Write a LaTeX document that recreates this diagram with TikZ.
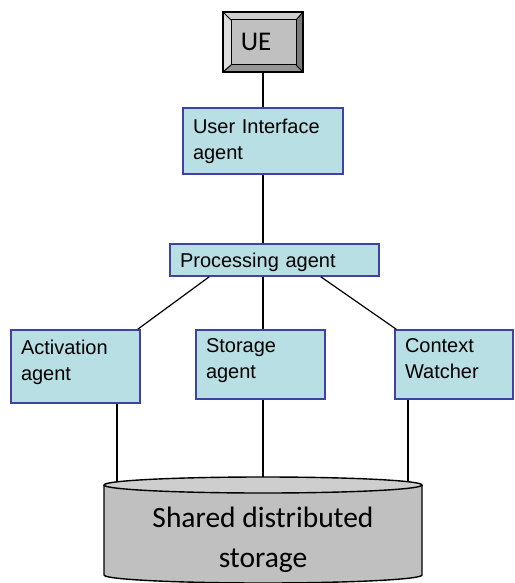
\documentclass[tikz,border=0pt]{standalone}
\usepackage{fontspec}
\setmainfont{Liberation Sans}
\newfontfamily\calibrifont{Carlito}
\usepackage{tikz}

\definecolor{agentfill}{RGB}{184,223,227}
\definecolor{agentline}{RGB}{65,65,165}
\definecolor{uegray}{RGB}{192,192,192}
\definecolor{bevtop}{RGB}{208,208,208}
\definecolor{bevleft}{RGB}{222,222,222}
\definecolor{bevright}{RGB}{122,122,122}
\definecolor{bevbottom}{RGB}{150,150,150}
\definecolor{dbbody}{RGB}{192,192,192}
\definecolor{dbtop}{RGB}{206,206,206}

\begin{document}
\begin{tikzpicture}[x=1pt, y=-1pt,
	agent/.style={rectangle, draw=agentline, fill=agentfill, line width=1.6pt,
		align=left, inner xsep=10pt, inner ysep=0pt,
		font=\fontsize{20}{26}\selectfont},
	leaf/.style={agent, text depth=38.7pt},
	link/.style={line width=1.2pt, draw=black},
	uebox/.style={rectangle, draw=black, line width=1.2pt, fill=uegray,
		minimum width=80pt, minimum height=60pt, inner sep=0pt,
		font=\calibrifont\fontsize{27}{32}\selectfont,
		path picture={
			\coordinate (bnw) at (path picture bounding box.north west);
			\coordinate (bne) at (path picture bounding box.north east);
			\coordinate (bsw) at (path picture bounding box.south west);
			\coordinate (bse) at (path picture bounding box.south east);
			\fill[bevtop] (bnw) -- (bne) -- ([shift={(-7pt,-8pt)}]bne) -- ([shift={(8pt,-8pt)}]bnw) -- cycle;
			\fill[bevleft] (bnw) -- ([shift={(8pt,-8pt)}]bnw) -- ([shift={(8pt,7pt)}]bsw) -- (bsw) -- cycle;
			\fill[bevright] (bne) -- (bse) -- ([shift={(-7pt,7pt)}]bse) -- ([shift={(-7pt,-8pt)}]bne) -- cycle;
			\fill[bevbottom] (bsw) -- (bse) -- ([shift={(-7pt,7pt)}]bse) -- ([shift={(8pt,7pt)}]bsw) -- cycle;
			\draw[line width=1pt] ([shift={(8pt,-8pt)}]bnw) rectangle ([shift={(-7pt,7pt)}]bse);
			\draw[line width=1pt] (bnw) -- ++(8pt,-8pt) (bne) -- ++(-7pt,-8pt)
				(bsw) -- ++(8pt,7pt) (bse) -- ++(-7pt,7pt);
		}}]
	\useasboundingbox (0,0) rectangle (514,583);

	% shared storage
	\path[draw, line width=1.4pt, fill=dbbody] (104,485) -- (104,575)
		arc[start angle=180, end angle=360, x radius=159pt, y radius=8pt] -- (422,485);
	\draw[line width=1.4pt, fill=dbtop] (263,485) ellipse[x radius=159pt, y radius=8pt];
	\coordinate (4t) at (117,482);
	\coordinate (5t) at (263,477);
	\coordinate (6t) at (408,482);
	\node[font=\calibrifont\fontsize{29.5}{40}\selectfont, align=center] (7) at (263,539.5) {Shared distributed\\storage};

	% agents
	\node[uebox] (1) at (263,42) {\hspace{-14pt}UE};
	\node[agent, text width=140pt, minimum height=66pt] (2) at (263,141) {User Interface\\agent};
	\node[agent, text width=189pt, minimum height=32pt, text height=18.3pt, text depth=4.2pt] (3) at (274.5,260) {Processing agent};
	\node[leaf, text width=109pt, minimum height=73pt] (4) at (75.5,366.5) {Activation\\agent};
	\node[leaf, text width=109pt, minimum height=69pt] (5) at (260.5,364.5) {Storage\\agent};
	\node[leaf, text width=98pt, minimum height=69pt] (6) at (454,364.5) {Context\\Watcher};

	\draw[link] (1) -- (2);
	\draw[link] (2.south) -- (2.south |- 3.north);
	\draw[link] ([xshift=40pt]3.south west) -- ([xshift=-3pt]4.north east);
	\draw[link] (2.south |- 3.south) -- (2.south |- 5.north);
	\draw[link] ([xshift=-59pt]3.south east) -- ([xshift=2pt]6.north west);
	\draw[link] (4.south -| 4t) -- (4t);
	\draw[link] (5.south -| 5t) -- (5t);
	\draw[link] (6.south -| 6t) -- (6t);
\end{tikzpicture}
\end{document}
